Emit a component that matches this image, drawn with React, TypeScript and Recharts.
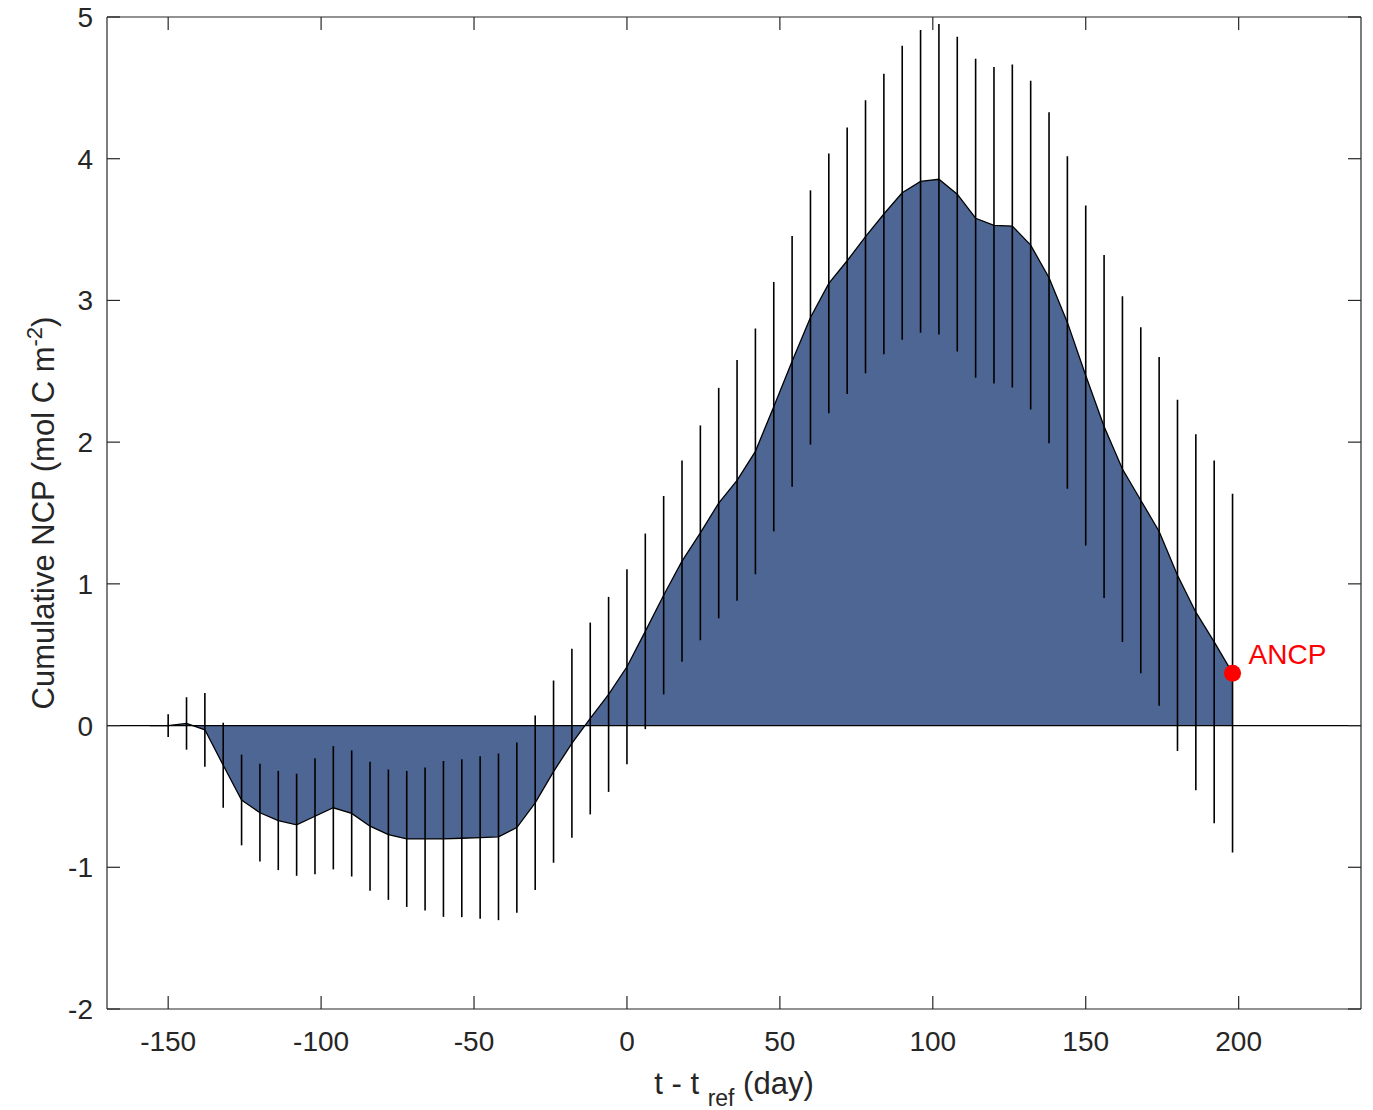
import React from 'react';
import {
  ComposedChart,
  Area,
  Line,
  XAxis,
  YAxis,
  ReferenceLine,
  ErrorBar,
  Scatter,
  Label,
} from 'recharts';

// days relative to reference time
const days = [
  -156, -150, -144, -138, -132, -126, -120, -114, -108, -102, -96, -90, -84, -78, -72, -66, -60, -54, -48, -42,
  -36, -30, -24, -18, -12, -6, 0, 6, 12, 18, 24, 30, 36, 42, 48, 54, 60, 66, 72, 78,
  84, 90, 96, 102, 108, 114, 120, 126, 132, 138, 144, 150, 156, 162, 168, 174, 180, 186, 192, 198,
];

// cumulative NCP (mol C m-2)
const ncp = [
  0, 0.0, 0.015, -0.03, -0.28, -0.525, -0.615, -0.67, -0.7, -0.64, -0.58, -0.62, -0.71, -0.77, -0.8, -0.8, -0.8, -0.795, -0.79, -0.785,
  -0.72, -0.545, -0.325, -0.125, 0.05, 0.22, 0.415, 0.665, 0.92, 1.16, 1.36, 1.57, 1.73, 1.935, 2.25, 2.57, 2.88, 3.12, 3.28, 3.45,
  3.61, 3.76, 3.84, 3.855, 3.75, 3.58, 3.53, 3.525, 3.39, 3.16, 2.845, 2.47, 2.11, 1.81, 1.59, 1.37, 1.06, 0.8, 0.59, 0.37,
];

// uncertainty (half-length of error bar)
const ncpErr = [
  0, 0.08, 0.185, 0.26, 0.3, 0.32, 0.345, 0.35, 0.36, 0.41, 0.435, 0.445, 0.455, 0.46, 0.48, 0.505, 0.55, 0.557, 0.573, 0.588,
  0.6, 0.616, 0.643, 0.667, 0.677, 0.688, 0.688, 0.69, 0.7, 0.71, 0.758, 0.813, 0.85, 0.867, 0.88, 0.885, 0.897, 0.916, 0.94, 0.963,
  0.99, 1.037, 1.068, 1.096, 1.11, 1.126, 1.117, 1.14, 1.16, 1.167, 1.173, 1.199, 1.21, 1.22, 1.22, 1.23, 1.24, 1.256, 1.28, 1.265,
];

const ancpDay = [198];
const ancpValue = [0.37];

const xTicks = [-150, -100, -50, 0, 50, 100, 150, 200];
const yTicks = [-2, -1, 0, 1, 2, 3, 4, 5];

const data = days.map((t, i) => ({ t, v: ncp[i], err: ncpErr[i] }));
const ancpData = ancpDay.map((t, i) => ({ t, v: ancpValue[i] }));

const FONT = '"Liberation Sans", Arial, Helvetica, sans-serif';
const AXIS_COLOR = '#262626';
const FILL = '#4e6693';

const W = 1373;
const H = 1110;
const PLOT_LEFT = 107;
const PLOT_TOP = 17;
const PLOT_RIGHT = 1361;
const PLOT_BOTTOM = 1009;

const renderAncp = (props: any) => {
  const { cx, cy } = props;
  if (cx == null || cy == null) return null;
  return (
    <g>
      <circle cx={cx} cy={cy} r={8.5} fill="#ff0000" />
      <text x={cx + 16} y={cy - 9} fill="#ff0000" fontSize={28} fontFamily={FONT}>
        ANCP
      </text>
    </g>
  );
};

const renderXLabel = () => {
  const cx = (PLOT_LEFT + PLOT_RIGHT) / 2;
  const y = PLOT_BOTTOM + 85;
  return (
    <text x={cx} y={y} textAnchor="middle" fontSize={31} fontFamily={FONT} fill={AXIS_COLOR}>
      <tspan>t - t </tspan>
      <tspan fontSize={23} dy={12}>ref</tspan>
      <tspan dy={-12}> (day)</tspan>
    </text>
  );
};

const renderYLabel = () => {
  const x = 54;
  const cy = (PLOT_TOP + PLOT_BOTTOM) / 2;
  return (
    <text
      x={x}
      y={cy}
      transform={`rotate(-90, ${x}, ${cy})`}
      textAnchor="middle"
      fontSize={31}
      fontFamily={FONT}
      fill={AXIS_COLOR}
    >
      <tspan>Cumulative NCP (mol C m</tspan>
      <tspan fontSize={22} dy={-12}>-2</tspan>
      <tspan dy={12}>)</tspan>
    </text>
  );
};

export default function App() {
  const tickStyle = { fontSize: 28, fontFamily: FONT, fill: AXIS_COLOR };
  return (
    <div style={{ position: 'absolute', left: 0, top: 0, width: W, height: H, background: '#fff' }}>
      <ComposedChart
        width={W}
        height={H}
        data={data}
        margin={{ top: PLOT_TOP - 1, right: W - PLOT_RIGHT - 1, bottom: H - PLOT_BOTTOM - 60, left: PLOT_LEFT - 80 }}
      >
        <XAxis
          xAxisId="b"
          type="number"
          dataKey="t"
          domain={[-170, 240]}
          ticks={xTicks}
          allowDataOverflow
          height={60}
          tickSize={-13}
          tickMargin={35}
          tick={tickStyle}
          axisLine={{ stroke: AXIS_COLOR, strokeWidth: 1.2 }}
          tickLine={{ stroke: AXIS_COLOR, strokeWidth: 1.2 }}
        >
          <Label content={renderXLabel} />
        </XAxis>
        <XAxis
          xAxisId="t"
          orientation="top"
          type="number"
          dataKey="t"
          domain={[-170, 240]}
          ticks={xTicks}
          allowDataOverflow
          height={1}
          tickSize={-13}
          tickFormatter={() => ''}
          axisLine={{ stroke: AXIS_COLOR, strokeWidth: 1.2 }}
          tickLine={{ stroke: AXIS_COLOR, strokeWidth: 1.2 }}
        />
        <YAxis
          yAxisId="l"
          type="number"
          domain={[-2, 5]}
          ticks={yTicks}
          allowDataOverflow
          width={80}
          tickSize={-13}
          tickMargin={27}
          tick={tickStyle}
          axisLine={{ stroke: AXIS_COLOR, strokeWidth: 1.2 }}
          tickLine={{ stroke: AXIS_COLOR, strokeWidth: 1.2 }}
        >
          <Label content={renderYLabel} />
        </YAxis>
        <YAxis
          yAxisId="r"
          orientation="right"
          type="number"
          domain={[-2, 5]}
          ticks={yTicks}
          allowDataOverflow
          width={1}
          tickSize={-13}
          tickFormatter={() => ''}
          axisLine={{ stroke: AXIS_COLOR, strokeWidth: 1.2 }}
          tickLine={{ stroke: AXIS_COLOR, strokeWidth: 1.2 }}
        />
        <Area
          xAxisId="b"
          yAxisId="l"
          type="linear"
          dataKey="v"
          baseValue={0}
          stroke="none"
          fill={FILL}
          fillOpacity={1}
          isAnimationActive={false}
          dot={false}
          activeDot={false}
        />
        <ReferenceLine xAxisId="b" yAxisId="l" y={0} stroke="#000" strokeWidth={1.3} />
        <Line
          xAxisId="b"
          yAxisId="l"
          type="linear"
          dataKey="v"
          stroke="#000"
          strokeWidth={1.3}
          dot={false}
          activeDot={false}
          isAnimationActive={false}
        >
          <ErrorBar dataKey="err" width={0} stroke="#000" strokeWidth={1.6} direction="y" />
        </Line>
        <Scatter
          xAxisId="b"
          yAxisId="l"
          data={ancpData}
          dataKey="v"
          shape={renderAncp}
          isAnimationActive={false}
        />
      </ComposedChart>
    </div>
  );
}
